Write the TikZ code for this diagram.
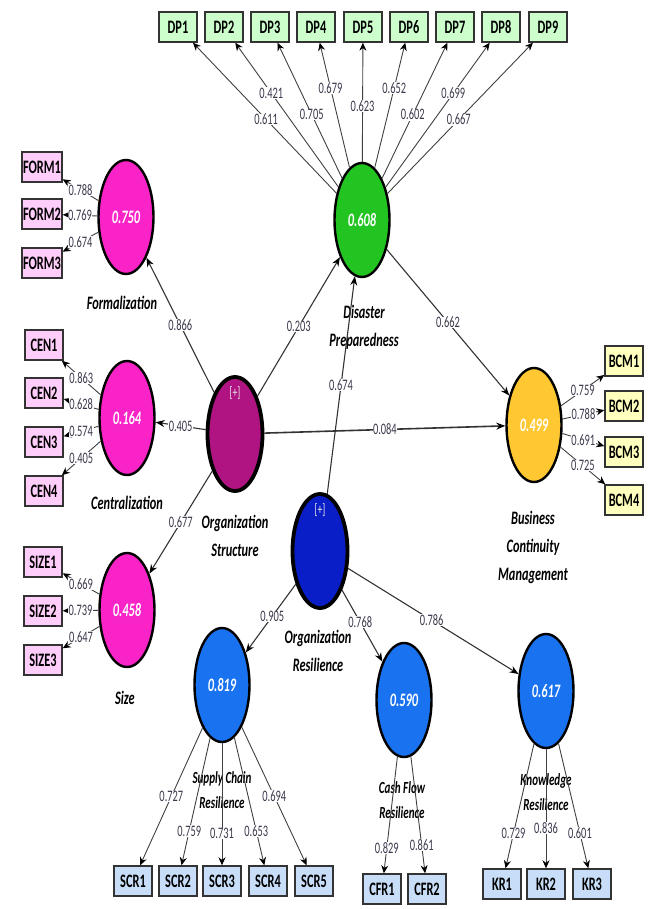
\documentclass[tikz,border=0pt]{standalone}
\usepackage{fontspec}
\setmainfont{Carlito}[FakeStretch=0.65]
\usetikzlibrary{positioning,shapes.geometric,arrows.meta}

\definecolor{dpgreen}{RGB}{34,196,34}
\definecolor{hotpink}{RGB}{250,35,200}
\definecolor{ospurple}{RGB}{175,20,130}
\definecolor{bcmgold}{RGB}{255,200,50}
\definecolor{ordark}{RGB}{10,30,200}
\definecolor{resblue}{RGB}{25,115,240}
\definecolor{boxgreen}{RGB}{205,255,205}
\definecolor{boxpink}{RGB}{255,205,250}
\definecolor{boxyellow}{RGB}{255,255,190}
\definecolor{boxblue}{RGB}{200,222,248}
\definecolor{lblcol}{RGB}{60,55,75}

\tikzset{
    latent/.style={ellipse, draw=black, line width=2.4pt, minimum width=55pt,
        minimum height=114pt, inner sep=0pt, text=white,
        font=\fontsize{19}{20}\selectfont\bfseries\itshape},
    second/.style={latent, line width=3.8pt},
    plus/.style={anchor=north, yshift=-8pt, text=white!85!gray,
        font=\fontsize{15}{15}\selectfont},
    ind/.style={rectangle, draw=black!80, line width=1.4pt, minimum width=38pt,
        minimum height=30pt, inner sep=1pt, font=\fontsize{19}{20}\selectfont\bfseries},
    cname/.style={align=center, font=\fontsize{19}{28}\selectfont\bfseries\itshape},
    cnamesmall/.style={align=center, font=\fontsize{17}{25}\selectfont\bfseries\itshape},
    coef/.style={fill=white, inner sep=0.5pt, text=lblcol,
        font=\fontsize{16}{16}\selectfont},
    loadarrow/.style={draw=black!75, line width=0.9pt,
        -{Stealth[black,length=8pt,width=7pt]}},
    struct/.style={draw=black!80, line width=1.1pt,
        -{Stealth[black,length=9pt,width=7pt]}}
}

\begin{document}
\begin{tikzpicture}[x=1pt,y=-1pt]
    \useasboundingbox (0,0) rectangle (648,909);

    % latent variables
    \node[latent, fill=dpgreen] (dp) at (362,220) {0.608};
    \node[latent, fill=hotpink] (form) at (126,217) {0.750};
    \node[latent, fill=hotpink] (cen) at (127,418) {0.164};
    \node[latent, fill=hotpink] (size) at (127,610) {0.458};
    \node[second, fill=ospurple, label={[plus]north:{[+]}}] (os) at (235,434) {};
    \node[latent, fill=bcmgold] (bcm) at (534,425) {0.499};
    \node[second, fill=ordark, label={[plus]north:{[+]}}] (or) at (320,551) {};
    \node[latent, fill=resblue] (scr) at (222,685) {0.819};
    \node[latent, fill=resblue] (cfr) at (404,700) {0.590};
    \node[latent, fill=resblue] (kr) at (546,691) {0.617};

    % names of the constructs
    \node[cname] (formname) at (122,303) {Formalization};
    \node[cname] (cenname) at (127,503) {Centralization};
    \node[cname] (sizename) at (125,698) {Size};
    \node[cname] (dpname) at (364,327) {Disaster\\Preparedness};
    \node[cname] (osname) at (235,536) {Organization\\Structure};
    \node[cname] (orname) at (318,651) {Organization\\Resilience};
    \node[cname] (bcmname) at (533,547) {Business\\Continuity\\Management};
    \node[cnamesmall] (scrname) at (222,790) {Supply Chain\\Resilience};
    \node[cnamesmall] (cfrname) at (402,800) {Cash Flow\\Resilience};
    \node[cnamesmall] (krname) at (546,792) {Knowledge\\Resilience};

    % disaster preparedness items
    \node[ind, fill=boxgreen] (dp1) at (178,27) {DP1};
    \node[ind, fill=boxgreen] (dp2) at (224,27) {DP2};
    \node[ind, fill=boxgreen] (dp3) at (270,27) {DP3};
    \node[ind, fill=boxgreen] (dp4) at (316,27) {DP4};
    \node[ind, fill=boxgreen] (dp5) at (363,27) {DP5};
    \node[ind, fill=boxgreen] (dp6) at (409,27) {DP6};
    \node[ind, fill=boxgreen] (dp7) at (455,27) {DP7};
    \node[ind, fill=boxgreen] (dp8) at (501,27) {DP8};
    \node[ind, fill=boxgreen] (dp9) at (548,27) {DP9};

    % organization structure items
    \node[ind, fill=boxpink] (form1) at (42,167) {FORM1};
    \node[ind, fill=boxpink] (form2) at (42,214) {FORM2};
    \node[ind, fill=boxpink] (form3) at (42,263) {FORM3};
    \node[ind, fill=boxpink] (cen1) at (44,345) {CEN1};
    \node[ind, fill=boxpink] (cen2) at (44,393) {CEN2};
    \node[ind, fill=boxpink] (cen3) at (44,442) {CEN3};
    \node[ind, fill=boxpink] (cen4) at (44,491) {CEN4};
    \node[ind, fill=boxpink] (size1) at (43,562) {SIZE1};
    \node[ind, fill=boxpink] (size2) at (43,611) {SIZE2};
    \node[ind, fill=boxpink] (size3) at (43,660) {SIZE3};

    % business continuity items
    \node[ind, fill=boxyellow] (bcm1) at (624,361) {BCM1};
    \node[ind, fill=boxyellow] (bcm2) at (624,406) {BCM2};
    \node[ind, fill=boxyellow] (bcm3) at (624,452) {BCM3};
    \node[ind, fill=boxyellow] (bcm4) at (624,500) {BCM4};

    % resilience items
    \node[ind, fill=boxblue] (scr1) at (133,881) {SCR1};
    \node[ind, fill=boxblue] (scr2) at (178,881) {SCR2};
    \node[ind, fill=boxblue] (scr3) at (222,881) {SCR3};
    \node[ind, fill=boxblue] (scr4) at (268,881) {SCR4};
    \node[ind, fill=boxblue] (scr5) at (314,881) {SCR5};
    \node[ind, fill=boxblue] (cfr1) at (382,889) {CFR1};
    \node[ind, fill=boxblue] (cfr2) at (427,889) {CFR2};
    \node[ind, fill=boxblue] (kr1) at (502,884) {KR1};
    \node[ind, fill=boxblue] (kr2) at (546,884) {KR2};
    \node[ind, fill=boxblue] (kr3) at (592,884) {KR3};

    % loadings
    \draw[loadarrow] (dp) -- node[coef, pos=0.49] {0.611} (dp1);
    \draw[loadarrow] (dp) -- node[coef, pos=0.65] {0.421} (dp2);
    \draw[loadarrow] (dp) -- node[coef, pos=0.47] {0.705} (dp3);
    \draw[loadarrow] (dp) -- node[coef, pos=0.64] {0.679} (dp4);
    \draw[loadarrow] (dp) -- node[coef, pos=0.47] {0.623} (dp5);
    \draw[loadarrow] (dp) -- node[coef, pos=0.64] {0.652} (dp6);
    \draw[loadarrow] (dp) -- node[coef, pos=0.47] {0.602} (dp7);
    \draw[loadarrow] (dp) -- node[coef, pos=0.65] {0.699} (dp8);
    \draw[loadarrow] (dp) -- node[coef, pos=0.49] {0.667} (dp9);

    \draw[loadarrow] (form) -- node[coef] {0.788} (form1);
    \draw[loadarrow] (form) -- node[coef] {0.769} (form2);
    \draw[loadarrow] (form) -- node[coef] {0.674} (form3);
    \draw[loadarrow] (cen) -- node[coef] {0.863} (cen1);
    \draw[loadarrow] (cen) -- node[coef] {0.628} (cen2);
    \draw[loadarrow] (cen) -- node[coef] {0.574} (cen3);
    \draw[loadarrow] (cen) -- node[coef] {0.405} (cen4);
    \draw[loadarrow] (size) -- node[coef] {0.669} (size1);
    \draw[loadarrow] (size) -- node[coef] {0.739} (size2);
    \draw[loadarrow] (size) -- node[coef] {0.647} (size3);

    \draw[loadarrow] (bcm) -- node[coef] {0.759} (bcm1);
    \draw[loadarrow] (bcm) -- node[coef] {0.788} (bcm2);
    \draw[loadarrow] (bcm) -- node[coef] {0.691} (bcm3);
    \draw[loadarrow] (bcm) -- node[coef] {0.725} (bcm4);

    \draw[loadarrow] (scr) -- node[coef, pos=0.5] {0.727} (scr1);
    \draw[loadarrow] (scr) -- node[coef, pos=0.73] {0.759} (scr2);
    \draw[loadarrow] (scr) -- node[coef, pos=0.74] {0.731} (scr3);
    \draw[loadarrow] (scr) -- node[coef, pos=0.73] {0.653} (scr4);
    \draw[loadarrow] (scr) -- node[coef, pos=0.5] {0.694} (scr5);
    \draw[loadarrow] (cfr) -- node[coef, pos=0.78] {0.829} (cfr1);
    \draw[loadarrow] (cfr) -- node[coef, pos=0.76] {0.861} (cfr2);
    \draw[loadarrow] (kr) -- node[coef, pos=0.72] {0.729} (kr1);
    \draw[loadarrow] (kr) -- node[coef, pos=0.66] {0.836} (kr2);
    \draw[loadarrow] (kr) -- node[coef, pos=0.72] {0.601} (kr3);

    % structural paths
    \draw[struct] (os) -- node[coef] {0.866} (form);
    \draw[struct] (os) -- node[coef] {0.405} (cen);
    \draw[struct] (os) -- node[coef] {0.677} (size);
    \draw[struct] (os) -- node[coef] {0.203} (dp);
    \draw[struct, line width=1.6pt] (os) -- node[coef] {0.084} (bcm);
    \draw[struct] (dp) -- node[coef] {0.662} (bcm);
    \draw[struct] (or) -- node[coef] {0.674} (dp);
    \draw[struct] (or) -- node[coef, pos=0.47] {0.905} (scr);
    \draw[struct] (or) -- node[coef, pos=0.45] {0.768} (cfr);
    \draw[struct] (or) -- node[coef, pos=0.49] {0.786} (kr);

\end{tikzpicture}
\end{document}
